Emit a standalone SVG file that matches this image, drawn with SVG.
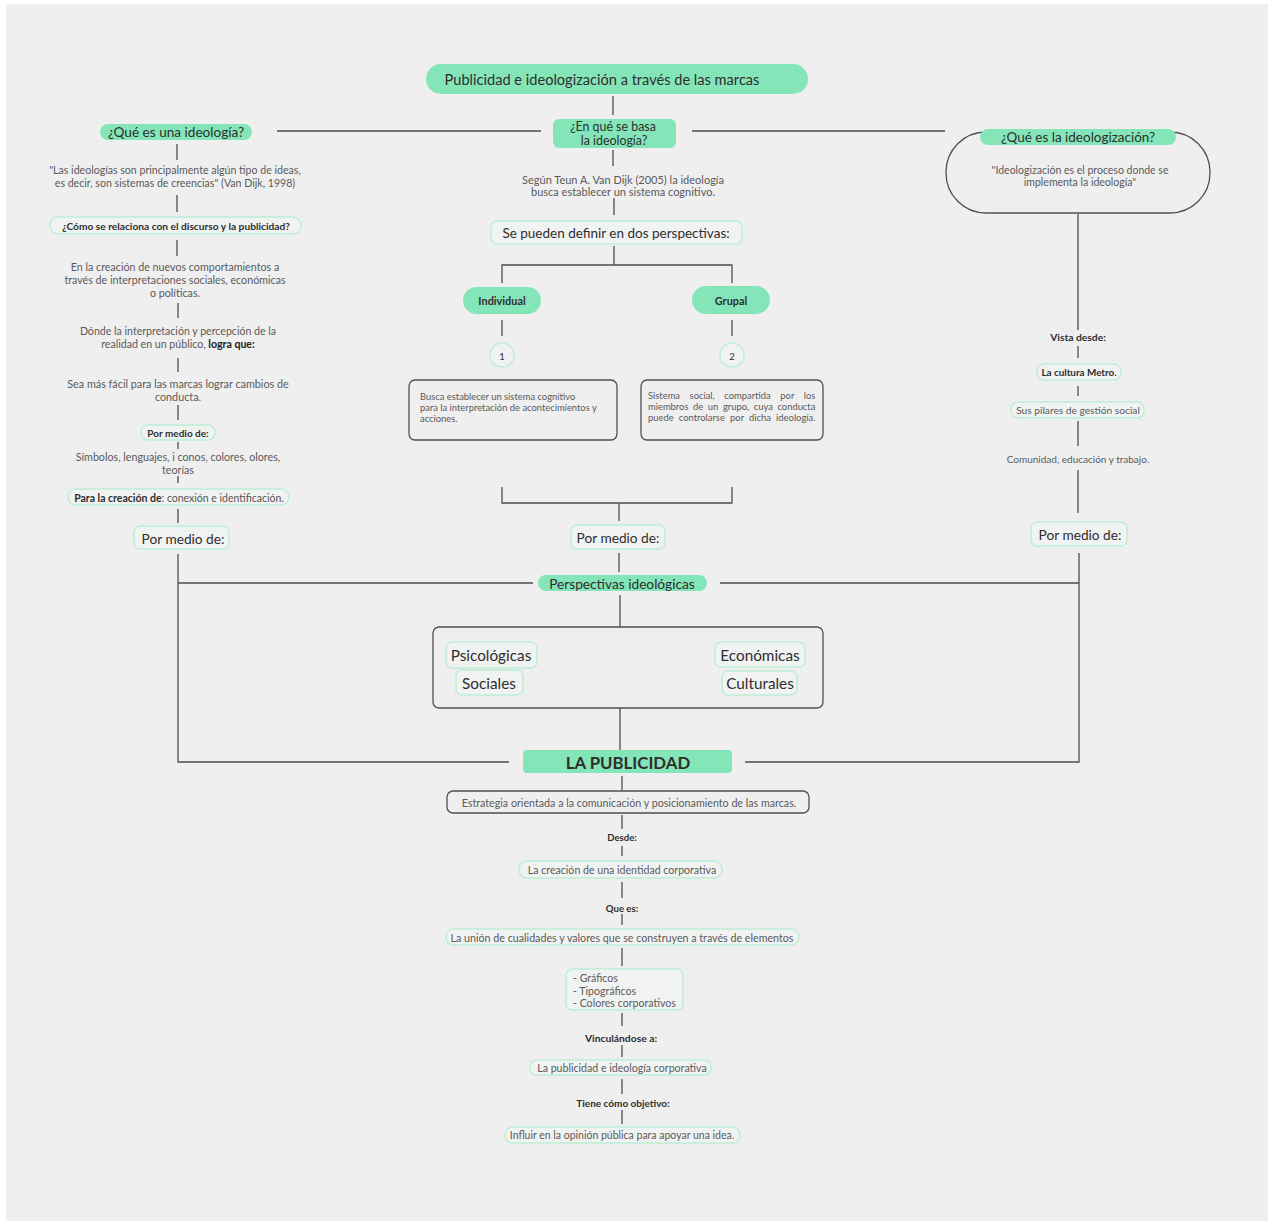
<svg xmlns="http://www.w3.org/2000/svg" width="1270" height="1224" viewBox="0 0 1270 1224">
<style>
text{font-family:Lato,"Noto Sans","Liberation Sans",sans-serif;fill:#2e2e2e;text-anchor:middle;dominant-baseline:central}
.ln{stroke:#4e4e4e;stroke-width:1.3;fill:none}
.g{fill:#84e6b8}
.o{fill:#f1f3f2;stroke:#bfeed6;stroke-width:1.5}
.bx{fill:none;stroke:#505050;stroke-width:1.3}
.gr{fill:#5a5a5a}
.bd{font-weight:bold}
.l{text-anchor:start}
</style>
<rect width="1270" height="1224" fill="#ffffff"/>
<rect x="6" y="4" width="1262" height="1217" fill="#efefef"/>

<g id="connectors">
<path class="ln" d="M613 96V115 M277 131H541 M692 131H945 M177 144V160 M177 195V212 M177 240V256 M178 303V318 M178 358V372 M178 405V420 M178 442V449 M178 476V483 M178 509V523"/>
<path class="ln" d="M613 150V166 M614 198V215 M614 246V265 M502 283V265H732V283 M502 320V336 M732 320V336 M502 487V503H732V487 M619 503V521 M619 553V572"/>
<path class="ln" d="M178 554V762H509 M178 583H533 M720 583H1079 M745 762H1079V553 M620 595V627 M620 708V750"/>
<path class="ln" d="M1078 214V330 M1078 346V358 M1078 386V396 M1078 421V446 M1078 470V513"/>
<path class="ln" d="M622 776V790 M622 815V829 M622 846V856 M622 882V898 M622 914V925 M622 948V966 M622 1013V1026 M622 1045V1057 M622 1079V1094 M622 1110V1124"/>
</g>

<g id="title"><rect class="g" x="426" y="64" width="382" height="30" rx="15"/><text x="602" y="79" font-size="14.6">Publicidad e ideologización a través de las marcas</text></g>

<g id="basa"><rect class="g" x="553" y="119" width="123" height="29" rx="6"/><text x="613" y="126.5" font-size="12.4">¿En qué se basa</text><text x="614" y="140.5" font-size="12.4">la ideología?</text></g>

<g id="que-ideologia"><rect class="g" x="100" y="124" width="152" height="16" rx="8"/><text x="176" y="132" font-size="13.6">¿Qué es una ideología?</text></g>

<g id="cita-vandijk"><text class="gr" x="175" y="170" font-size="10.6">"Las ideologías son principalmente algún tipo de ideas,</text><text class="gr" x="175" y="183" font-size="10.6">es decir, son sistemas de creencias" (Van Dijk, 1998)</text></g>

<g id="como"><rect class="o" x="50" y="217" width="251" height="17" rx="8"/><text class="bd" x="176" y="225.5" font-size="10.2">¿Cómo se relaciona con el discurso y la publicidad?</text></g>

<g id="creacion"><text class="gr" x="175" y="266" font-size="10.7">En la creación de nuevos comportamientos a</text><text class="gr" x="175" y="279" font-size="10.7">través de interpretaciones sociales, económicas</text><text class="gr" x="175" y="292" font-size="10.7">o políticas.</text></g>

<g id="donde"><text class="gr" x="178" y="331" font-size="10.6">Dónde la interpretación y percepción de la</text><text class="gr" x="178" y="344" font-size="10.6">realidad en un público, <tspan class="bd" fill="#222">logra que:</tspan></text></g>

<g id="sea"><text class="gr" x="178" y="383" font-size="10.8">Sea más fácil para las marcas lograr cambios de</text><text class="gr" x="178" y="396" font-size="10.8">conducta.</text></g>

<g id="por-medio-1"><rect class="o" x="141" y="425" width="74" height="15" rx="7"/><text class="bd" x="178" y="433" font-size="10">Por medio de:</text></g>

<g id="simbolos"><text class="gr" x="178" y="456" font-size="10.7">Símbolos, lenguajes, i conos, colores, olores,</text><text class="gr" x="178" y="469" font-size="10.7">teorías</text></g>

<g id="para-creacion"><rect class="o" x="68" y="489" width="221" height="16" rx="8"/><text x="179" y="497.5" font-size="10.5"><tspan class="bd">Para la creación de</tspan><tspan fill="#555">: conexión e identificación.</tspan></text></g>

<g id="por-medio-left"><rect class="o" x="134" y="526" width="95" height="23" rx="6"/><text x="183" y="538" font-size="13.7">Por medio de:</text></g>

<g id="segun"><text class="gr" x="623" y="179" font-size="11">Según Teun A. Van Dijk (2005) la ideología</text><text class="gr" x="623" y="191" font-size="11">busca establecer un sistema cognitivo.</text></g>

<g id="se-pueden"><rect class="o" x="491" y="221" width="251" height="23" rx="6"/><text x="616" y="233" font-size="13.5">Se pueden definir en dos perspectivas:</text></g>

<g id="individual"><rect class="g" x="463" y="287" width="78" height="27" rx="13.5"/><text class="bd" x="502" y="300.5" font-size="10.9">Individual</text></g>
<g id="grupal"><rect class="g" x="692" y="286" width="78" height="28" rx="14"/><text class="bd" x="731" y="300" font-size="10.9">Grupal</text></g>

<g id="n1"><circle class="o" cx="502" cy="355" r="12"/><text x="502" y="356" font-size="9.5" fill="#555">1</text></g>
<g id="n2"><circle class="o" cx="732" cy="355" r="12"/><text x="732" y="356" font-size="9.5" fill="#555">2</text></g>

<g id="individual-desc"><rect class="bx" x="409" y="380" width="208" height="60" rx="6"/><text class="gr l" x="420" y="396" font-size="9.4">Busca establecer un sistema cognitivo</text><text class="gr l" x="420" y="407" font-size="9.4">para la interpretación de acontecimientos y</text><text class="gr l" x="420" y="418" font-size="9.4">acciones.</text></g>

<g id="grupal-desc"><rect class="bx" x="641" y="380" width="182" height="60" rx="6"/><text class="gr l" x="648" y="395" font-size="9.4" word-spacing="7.2">Sistema social, compartida por los</text><text class="gr l" x="648" y="406" font-size="9.4" word-spacing="2.2">miembros de un grupo, cuya conducta</text><text class="gr l" x="648" y="417" font-size="9.4" word-spacing="2.8">puede controlarse por dicha ideología.</text></g>

<g id="por-medio-mid"><rect class="o" x="571" y="525" width="94" height="24" rx="6"/><text x="618" y="537" font-size="13.7">Por medio de:</text></g>

<g id="perspectivas"><rect class="g" x="538" y="575" width="169" height="16" rx="8"/><text x="622" y="583" font-size="13.7">Perspectivas ideológicas</text></g>

<g id="perspectivas-box"><rect class="bx" x="433" y="627" width="390" height="81" rx="6"/></g>
<g id="psicologicas"><rect class="o" x="446" y="642" width="91" height="26" rx="6"/><text x="491" y="655" font-size="15.3">Psicológicas</text></g>
<g id="sociales"><rect class="o" x="456" y="670" width="67" height="25" rx="6"/><text x="489" y="683" font-size="15.3">Sociales</text></g>
<g id="economicas"><rect class="o" x="715" y="642" width="90" height="25" rx="6"/><text x="760" y="655" font-size="15.3">Económicas</text></g>
<g id="culturales"><rect class="o" x="722" y="671" width="75" height="24" rx="6"/><text x="760" y="683" font-size="15.3">Culturales</text></g>

<g id="que-ideologizacion"><rect class="bx" x="946" y="132" width="264" height="81" rx="40"/><rect class="g" x="980" y="129" width="196" height="16" rx="8"/><text x="1078" y="137" font-size="13.5">¿Qué es la ideologización?</text><text class="gr" x="1080" y="170" font-size="10.5">"Ideologización es el proceso donde se</text><text class="gr" x="1080" y="182" font-size="10.5">implementa la ideología"</text></g>

<g id="vista"><text class="bd" x="1078" y="337" font-size="10.3">Vista desde:</text></g>
<g id="metro"><rect class="o" x="1037" y="364" width="84" height="16" rx="7"/><text class="bd" x="1079" y="372" font-size="9.9">La cultura Metro.</text></g>
<g id="pilares"><rect class="o" x="1011" y="402" width="133" height="16" rx="7"/><text class="gr" x="1078" y="410" font-size="10.2">Sus pilares de gestión social</text></g>
<g id="comunidad"><text class="gr" x="1078" y="459" font-size="10">Comunidad, educación y trabajo.</text></g>
<g id="por-medio-right"><rect class="o" x="1031" y="522" width="96" height="24" rx="6"/><text x="1080" y="534" font-size="13.7">Por medio de:</text></g>

<g id="la-publicidad"><rect class="g" x="523" y="750" width="209" height="23" rx="4"/><text class="bd" x="628" y="762" font-size="16.8">LA PUBLICIDAD</text></g>
<g id="estrategia"><rect class="bx" x="447" y="791" width="362" height="22" rx="6"/><text class="gr" x="629" y="802" font-size="10.7">Estrategia orientada a la comunicación y posicionamiento de las marcas.</text></g>
<g id="desde"><text class="bd" x="622" y="837" font-size="9.6">Desde:</text></g>
<g id="identidad"><rect class="o" x="519" y="861" width="203" height="17" rx="8"/><text class="gr" x="622" y="869.5" font-size="10.6">La creación de una identidad corporativa</text></g>
<g id="que-es"><text class="bd" x="622" y="908" font-size="9.6">Que es:</text></g>
<g id="union"><rect class="o" x="446" y="929" width="353" height="16" rx="8"/><text class="gr" x="622" y="937" font-size="10.7">La unión de cualidades y valores que se construyen a través de elementos</text></g>
<g id="elementos"><rect class="o" x="566" y="969" width="117" height="41" rx="6"/><text class="gr l" x="573" y="978" font-size="10.6">- Gráficos</text><text class="gr l" x="573" y="991" font-size="10.6">- Tipográficos</text><text class="gr l" x="573" y="1003" font-size="10.6">- Colores corporativos</text></g>
<g id="vinculandose"><text class="bd" x="621" y="1038" font-size="10.3">Vinculándose a:</text></g>
<g id="publicidad-ideologia"><rect class="o" x="530" y="1060" width="181" height="15" rx="7"/><text class="gr" x="622" y="1067.5" font-size="10.6">La publicidad e ideología corporativa</text></g>
<g id="tiene"><text class="bd" x="623" y="1103" font-size="10">Tiene cómo objetivo:</text></g>
<g id="influir"><rect class="o" x="505" y="1127" width="235" height="16" rx="8"/><text class="gr" x="622" y="1135" font-size="10.5">Influir en la opinión pública para apoyar una idea.</text></g>
</svg>
